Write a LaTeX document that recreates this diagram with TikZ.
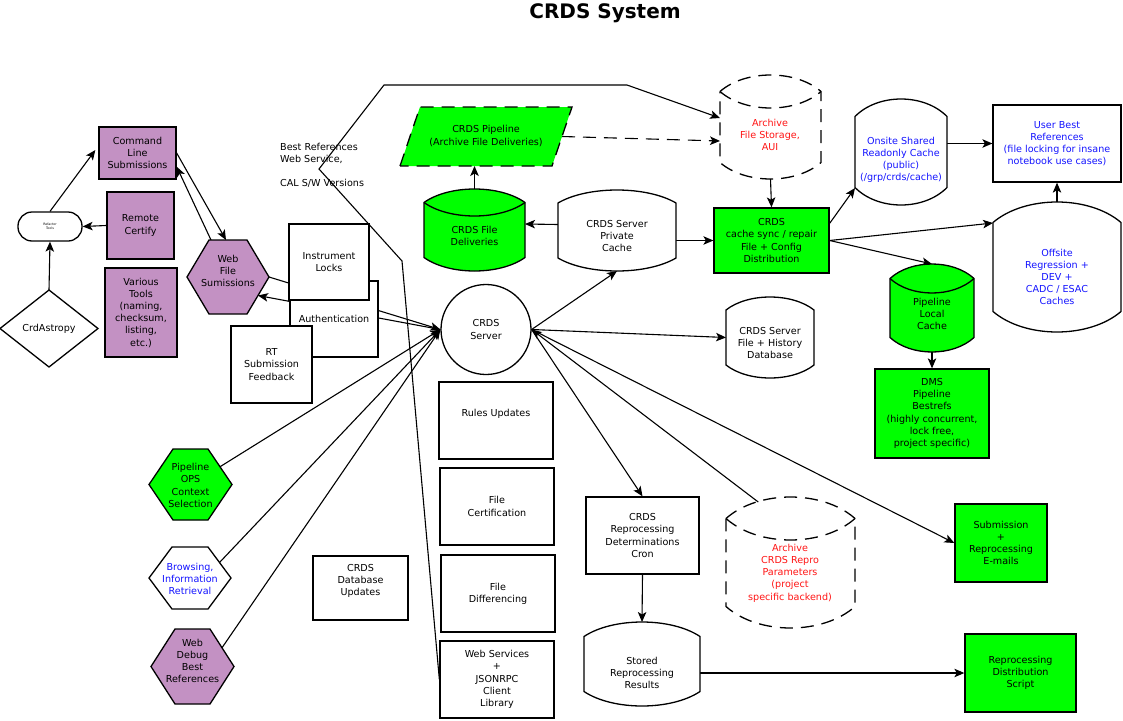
\documentclass[tikz,border=0pt]{standalone}
\usepackage{fontspec}
\setmainfont{DejaVu Sans}
\usetikzlibrary{calc,arrows.meta}
\pgfdeclarelayer{bg}
\pgfsetlayers{bg,main}
\definecolor{purp}{RGB}{195,145,195}
\definecolor{grn}{RGB}{0,255,0}
\definecolor{txtblue}{RGB}{20,20,255}
\definecolor{txtred}{RGB}{255,20,20}
\tikzset{
  box/.style={draw, line width=1.3pt, fill=white, align=center, inner sep=0pt},
  geo/.style={inner sep=0pt, outer sep=0pt},
  lbl/.style={align=center, inner sep=0pt},
  outl/.style={draw, line width=1.3pt, line join=miter},
  conn/.style={line width=1.1pt, -{Stealth[length=10pt,width=8.5pt,inset=2.5pt]}},
  dconn/.style={conn, dash pattern=on 13pt off 8pt},
  dsh/.style={dash pattern=on 13pt off 8pt},
}
\newcommand\barrelpath[3]{%
  \path[#3] ($(#1.north west)+(0,#2)$)
    .. controls ($(#1.north west)!0.25!(#1.north east)+(0,-#2/3)$) and ($(#1.north west)!0.75!(#1.north east)+(0,-#2/3)$) .. ($(#1.north east)+(0,#2)$)
    -- ($(#1.south east)+(0,-#2)$)
    .. controls ($(#1.south west)!0.75!(#1.south east)+(0,#2/3)$) and ($(#1.south west)!0.25!(#1.south east)+(0,#2/3)$) .. ($(#1.south west)+(0,-#2)$)
    -- cycle;}
\newcommand\cylline[3]{%
  \path[#3] ($(#1.north west)+(0,#2)$)
    .. controls ($(#1.north west)!0.25!(#1.north east)+(0,7*#2/3)$) and ($(#1.north west)!0.75!(#1.north east)+(0,7*#2/3)$) .. ($(#1.north east)+(0,#2)$);}
\newcommand\hexpath[3]{%
  \path[#3] (#1.west) -- ($(#1.north west)+(#2,0)$) -- ($(#1.north east)+(-#2,0)$) -- (#1.east)
    -- ($(#1.south east)+(-#2,0)$) -- ($(#1.south west)+(#2,0)$) -- cycle;}
\begin{document}
\begin{tikzpicture}[x=1pt,y=-1pt,font=\fontsize{9.6}{12.2}\selectfont]
\useasboundingbox (0,0) rectangle (1123,720);

\node[font=\bfseries\fontsize{20}{24}\selectfont] (title) at (605,13) {CRDS System};

% ---- left column
\node[box, fill=purp, minimum width=77, minimum height=52] (cmd) at (137.5,153) {Command\\Line\\Submissions};
\node[box, fill=purp, minimum width=67, minimum height=67] (remote) at (140.5,225.5) {Remote\\Certify};
\node[box, fill=purp, minimum width=72, minimum height=89] (tools) at (141,312.5) {Various\\Tools\\(naming,\\checksum,\\listing,\\etc.)};
\node[draw, line width=1.3pt, fill=white, rounded corners=14pt, minimum width=64, minimum height=29, inner sep=0pt, align=center, font=\fontsize{3.2}{3.8}\selectfont] (refactor) at (50,226.5) {Refactor\\Tools};
\node[geo, minimum width=98, minimum height=77] (crd) at (49,328.5) {CrdAstropy};
\path[outl] (crd.north) -- (crd.east) -- (crd.south) -- (crd.west) -- cycle;

% ---- hexagons
\node[geo, minimum width=82, minimum height=74] (wf) at (228,277) {};
\hexpath{wf}{22}{outl, fill=purp}
\node[lbl] (wf-t) at (228,271) {Web\\File\\Sumissions};

\node[geo, minimum width=83, minimum height=71] (ops) at (190.5,484.5) {};
\hexpath{ops}{24}{outl, fill=grn}
\node[lbl] (ops-t) at (190.5,485.5) {Pipeline\\OPS\\Context\\Selection};

\node[geo, minimum width=82, minimum height=62] (browse) at (190,578) {};
\hexpath{browse}{23}{outl, fill=white}
\node[lbl, text=txtblue] (browse-t) at (190,579) {Browsing,\\Information\\Retrieval};

\node[geo, minimum width=83, minimum height=75] (debug) at (192.5,666.5) {};
\hexpath{debug}{24}{outl, fill=purp}
\node[lbl] (debug-t) at (192.5,661) {Web\\Debug\\Best\\References};

% ---- boxes near web file
\node[box, minimum width=88, minimum height=76] (auth) at (334,319) {Authentication};
\node[box, minimum width=80, minimum height=76] (locks) at (329,262) {Instrument\\Locks};
\node[box, minimum width=81, minimum height=77] (rt) at (271.5,364.5) {RT\\Submission\\Feedback};
\node[lbl, align=left, anchor=north west] (bestref) at (280,143) {Best References\\Web Service,\\[12pt]CAL S/W Versions};

% ---- server and centre column
\node[draw, circle, line width=1.3pt, minimum size=90, inner sep=0pt, align=center] (srv) at (486,329.5) {CRDS\\Server};
\node[box, minimum width=114, minimum height=77] (rules) at (496,420.5) {};
\node[lbl] (rules-t) at (496,414) {Rules Updates};
\node[box, minimum width=114, minimum height=77] (cert) at (497,506.5) {File\\Certification};
\node[box, minimum width=114, minimum height=77] (diff) at (498,593.5) {File\\Differencing};
\node[box, minimum width=114, minimum height=77] (websvc) at (497,679.5) {Web Services\\+\\JSONRPC\\Client\\Library};
\node[box, minimum width=95, minimum height=64] (dbupd) at (360.5,588) {};
\node[lbl] (dbupd-t) at (360.5,581) {CRDS\\Database\\Updates};

% ---- pipeline / deliveries
\node[geo, minimum width=172, minimum height=59] (pipe) at (486,136.5) {};
\path[outl, dsh, fill=grn] (pipe.south west) -- ($(pipe.north west)+(20,0)$) -- (pipe.north east) -- ($(pipe.south east)+(-20,0)$) -- cycle;
\node[lbl] (pipe-t) at (486,136) {CRDS Pipeline\\(Archive File Deliveries)};

\node[geo, minimum width=101, minimum height=82] (deliveries) at (474.5,230) {};
\barrelpath{deliveries}{13.5}{outl, fill=grn}
\cylline{deliveries}{13.5}{outl}
\node[lbl] (deliveries-t) at (474.5,236) {CRDS File\\Deliveries};

\node[geo, minimum width=118, minimum height=81] (private) at (617,230.5) {};
\barrelpath{private}{13}{outl, fill=white}
\node[lbl] (private-t) at (617,236) {CRDS Server\\Private\\Cache};

\node[geo, minimum width=88, minimum height=81] (db) at (770,337.5) {};
\barrelpath{db}{13}{outl, fill=white}
\node[lbl] (db-t) at (770,343) {CRDS Server\\File + History\\Database};

% ---- archives
\node[geo, minimum width=101, minimum height=104] (archive) at (770.5,127) {};
\barrelpath{archive}{16.5}{outl, dsh}
\cylline{archive}{16.5}{outl, dsh}
\node[lbl, text=txtred] (archive-t) at (770,135) {Archive\\File Storage,\\AUI};

\node[geo, minimum width=129, minimum height=131] (repro) at (790.5,562.5) {};
\barrelpath{repro}{21.5}{outl, dsh}
\cylline{repro}{21.5}{outl, dsh}
\node[lbl, text=txtred] (repro-t) at (790,573) {Archive\\CRDS Repro\\Parameters\\(project\\specific backend)};

% ---- distribution
\node[box, fill=grn, minimum width=115, minimum height=65] (sync) at (771.5,240.5) {CRDS\\cache sync / repair\\File + Config\\Distribution};

\node[geo, minimum width=92, minimum height=106] (onsite) at (901,152) {};
\barrelpath{onsite}{17.5}{outl, fill=white}
\node[lbl, text=txtblue] (onsite-t) at (901,160) {Onsite Shared\\Readonly Cache\\(public)\\(/grp/crds/cache)};

\node[box, minimum width=128, minimum height=77, text=txtblue] (userbest) at (1057,143.5) {User Best\\References\\(file locking for insane\\notebook use cases)};

\node[geo, minimum width=128, minimum height=130] (offsite) at (1057,267) {};
\barrelpath{offsite}{20.5}{outl, fill=white}
\node[lbl, text=txtblue] (offsite-t) at (1057,277) {Offsite\\Regression +\\DEV +\\CADC / ESAC\\Caches};

\node[geo, minimum width=84, minimum height=88] (plocal) at (932,308) {};
\barrelpath{plocal}{14.5}{outl, fill=grn}
\cylline{plocal}{14.5}{outl}
\node[lbl] (plocal-t) at (932,314) {Pipeline\\Local\\Cache};

\node[box, fill=grn, minimum width=114, minimum height=89] (dms) at (932,413.5) {DMS\\Pipeline\\Bestrefs\\(highly concurrent,\\lock free,\\project specific)};

% ---- reprocessing
\node[box, minimum width=113, minimum height=77] (cron) at (642.5,535.5) {CRDS\\Reprocessing\\Determinations\\Cron};
\node[geo, minimum width=116, minimum height=84] (stored) at (642,664) {};
\barrelpath{stored}{14.5}{outl, fill=white}
\node[lbl] (stored-t) at (642,673) {Stored\\Reprocessing\\Results};
\node[box, fill=grn, minimum width=92, minimum height=78] (emails) at (1001,543) {Submission\\+\\Reprocessing\\E-mails};
\node[box, fill=grn, minimum width=111, minimum height=78] (script) at (1020.5,673) {Reprocessing\\Distribution\\Script};

% ---- connectors
\begin{pgfonlayer}{bg}
\fill[white] (0,0) rectangle (1123,720);
\draw[conn] (crd.north) -- (refactor.south);
\draw[conn] (refactor.north) -- ($(cmd.west)+(-3,-3)$);
\draw[conn] (remote.west) -- (refactor.east);
\draw[conn] (cmd.east) -- ($(wf.north)+(-2,0)$);
\draw[conn] ($(wf.north west)+(24,0)$) -- ($(cmd.south east)+(0,-13)$);
\draw[conn] (wf.east) -- (srv.west);
\draw[conn] (srv.west) -- ($(wf.east)!0.5!(wf.south east)+(-11,0)$);
\draw[conn] ($(ops.east)!0.5!(ops.north east)+(-12,0)$) -- (srv.west);
\draw[conn] ($(browse.east)!0.5!(browse.north east)+(-11.5,0)$) -- (srv.west);
\draw[conn] ($(debug.east)!0.5!(debug.north east)+(-12,0)$) -- (srv.west);
\draw[conn] (websvc.west) -- (402,261) -- (319,169) -- (384,85) -- (627,85) -- ($(archive.west)+(0,-9)$);
\draw[dconn] ($(pipe.east)+(-10,0)$) -- ($(archive.west)+(0,14)$);
\draw[conn] (deliveries.north) -- (deliveries.north |- pipe.south);
\draw[conn] ($(private.west)+(0,-6)$) -- ($(deliveries.east)+(0,-6)$);
\draw[conn] (private.east |- sync.west) -- (sync.west);
\draw[conn] (srv.east) -- (private.south);
\draw[conn] (srv.east) -- (db.west);
\draw[conn] (srv.east) -- (cron.north);
\draw[conn] ($(repro.north west)!0.25!(repro.north east)+(0,5)$) -- (srv.east);
\draw[conn] (srv.east) -- (emails.west);
\draw[conn] (cron.south) -- (stored.north);
\draw[conn] (script.west -| stored.east) -- (script.west);
\draw[conn] (archive.south) -- (sync.north);
\draw[conn] ($(sync.north east)+(0,16)$) -- ($(onsite.south west)+(0,-17)$);
\draw[conn] (sync.east) -- ($(offsite.north west)+(0,21)$);
\draw[conn] (sync.east) -- (plocal.north);
\draw[conn] (onsite.east |- userbest.west) -- (userbest.west);
\draw[conn] (offsite.north) -- (userbest.south);
\draw[conn] (plocal.south) -- (dms.north);
\end{pgfonlayer}
\end{tikzpicture}
\end{document}
